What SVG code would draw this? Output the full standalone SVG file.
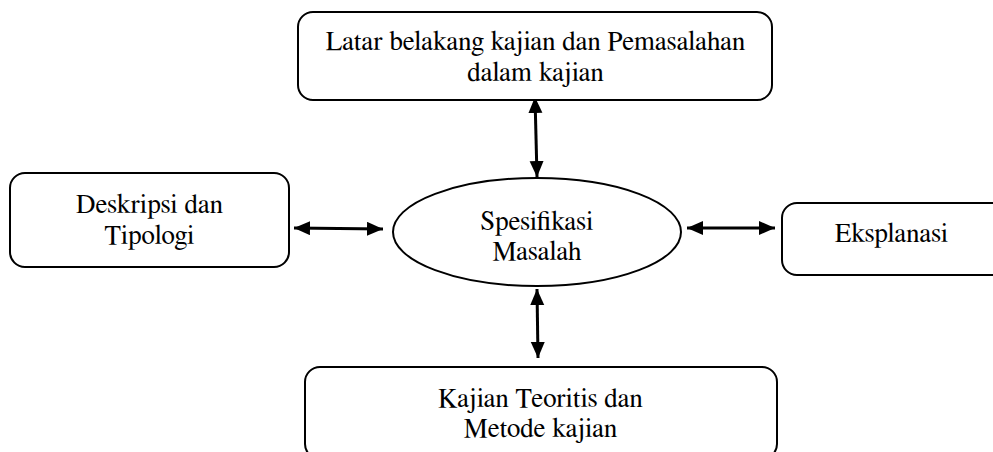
<svg xmlns="http://www.w3.org/2000/svg" width="993" height="452" viewBox="0 0 993 452">
<style>
.box{fill:#fff;stroke:#000;stroke-width:2}
.t{font-family:FreeSerif,'Liberation Serif','Times New Roman',serif;font-size:27px;fill:#000;text-anchor:middle}
.c{stroke:#000;stroke-width:3;fill:none;marker-start:url(#ah);marker-end:url(#ah)}
</style>
<defs>
<marker id="ah" markerUnits="userSpaceOnUse" markerWidth="18" markerHeight="16" refX="16" refY="7" orient="auto-start-reverse">
<path d="M0,0 L16,7 L0,14 Z" fill="#000"/>
</marker>
</defs>
<rect width="993" height="452" fill="#fff"/>
<g id="connectors">
<path class="c" d="M535,97 L537,177"/>
<path class="c" d="M294,228 L383,229"/>
<path class="c" d="M687,228 L775,228"/>
<path class="c" d="M537,289 L538,358"/>
</g>
<g id="latar">
<rect class="box" x="298" y="12" width="474" height="88" rx="15"/>
<text class="t" x="535.5" y="50">Latar belakang kajian dan Pemasalahan</text>
<text class="t" x="535.5" y="81">dalam kajian</text>
</g>
<g id="deskripsi">
<rect class="box" x="10" y="173" width="279" height="94" rx="15"/>
<text class="t" x="149.5" y="213">Deskripsi dan</text>
<text class="t" x="149.5" y="244">Tipologi</text>
</g>
<g id="spesifikasi">
<ellipse class="box" cx="537" cy="232" rx="144" ry="54"/>
<text class="t" x="537" y="230">Spesifikasi</text>
<text class="t" x="537" y="260">Masalah</text>
</g>
<g id="eksplanasi">
<rect class="box" x="782" y="203" width="230" height="72" rx="15"/>
<text class="t" x="891.5" y="242">Eksplanasi</text>
</g>
<g id="kajian">
<rect class="box" x="305" y="367" width="472" height="92" rx="15"/>
<text class="t" x="540.5" y="407">Kajian Teoritis dan</text>
<text class="t" x="540.5" y="437">Metode kajian</text>
</g>
</svg>
